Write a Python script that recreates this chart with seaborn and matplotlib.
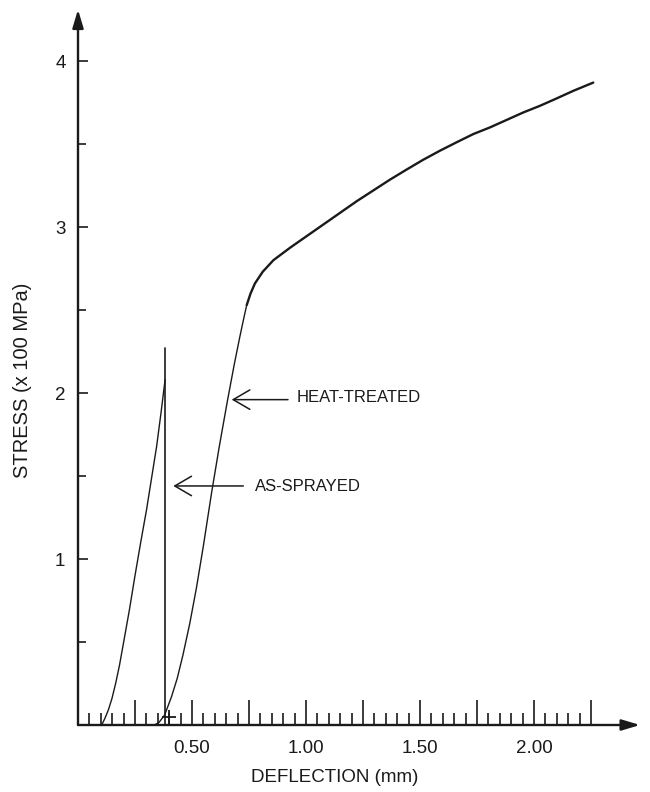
import matplotlib
matplotlib.use('Agg')
import matplotlib.pyplot as plt
import seaborn as sns
import pandas as pd

# ---- data (deflection in mm, stress in x100 MPa) ----
ht_x = [0.335, 0.355, 0.38, 0.41, 0.435, 0.46, 0.49, 0.52, 0.55, 0.586, 0.62, 0.655,
        0.685, 0.71, 0.727, 0.74, 0.757, 0.776, 0.81, 0.857, 0.93,
        1.003, 1.076, 1.149, 1.222, 1.295, 1.368, 1.44, 1.514, 1.588, 1.66, 1.734,
        1.807, 1.88, 1.953, 2.026, 2.10, 2.172, 2.26]
ht_y = [0.0, 0.015, 0.06, 0.17, 0.28, 0.42, 0.61, 0.83, 1.08, 1.40, 1.68, 1.95,
        2.17, 2.34, 2.45, 2.53, 2.60, 2.66, 2.73, 2.80, 2.875,
        2.945, 3.015, 3.085, 3.155, 3.22, 3.285, 3.345, 3.405, 3.46, 3.51, 3.56,
        3.60, 3.645, 3.69, 3.73, 3.775, 3.82, 3.87]
as_x = [0.104, 0.118, 0.133, 0.149, 0.165, 0.182, 0.199, 0.225, 0.25, 0.275, 0.301,
        0.323, 0.345, 0.364, 0.382]
as_y = [0.0, 0.04, 0.09, 0.16, 0.25, 0.36, 0.49, 0.69, 0.90, 1.10, 1.30,
        1.49, 1.68, 1.88, 2.08]
drop_x = [0.382, 0.382]
drop_y = [2.27, 0.0]
cross_x = [0.40]
cross_y = [0.05]
knee_index = 15   # where the heat-treated trace becomes heavier

x_major = [0.25, 0.50, 0.75, 1.00, 1.25, 1.50, 1.75, 2.00, 2.25]
x_labels = ['', '0.50', '', '1.00', '', '1.50', '', '2.00', '']
x_minor = [round(0.05 * i, 2) for i in range(1, 45) if i % 5 != 0]
y_major = [1, 2, 3, 4]
y_labels = ['1', '2', '3', '4']
y_minor = [0.5, 1.5, 2.5, 3.5]

label_ht = 'HEAT-TREATED'
label_as = 'AS-SPRAYED'
ht_arrow_tip = (0.674, 1.96)
ht_arrow_tail = (0.921, 1.96)
ht_text_pos = (0.959, 1.975)
as_arrow_tip = (0.418, 1.44)
as_arrow_tail = (0.725, 1.44)
as_text_pos = (0.776, 1.435)

sns.set_theme(style='white')
plt.rcParams['font.family'] = ['Liberation Sans', 'DejaVu Sans']

W, H = 650, 792
fig = plt.figure(figsize=(W / 100, H / 100), dpi=100)
fig.patch.set_facecolor('white')
ox, oy = 78, 725
sx, sy = 228, 166
xmax, ymax = 2.465, 4.31
ax = fig.add_axes([ox / W, (H - oy) / H, xmax * sx / W, ymax * sy / H])
ax.set_facecolor('white')

df_ht_low = pd.DataFrame({'x': ht_x[:knee_index + 1], 'y': ht_y[:knee_index + 1]})
df_ht_up = pd.DataFrame({'x': ht_x[knee_index:], 'y': ht_y[knee_index:]})
df_as = pd.DataFrame({'x': as_x, 'y': as_y})
df_drop = pd.DataFrame({'x': drop_x, 'y': drop_y})

sns.lineplot(data=df_ht_low, x='x', y='y', sort=False, estimator=None, color='k', lw=1.0, ax=ax)
sns.lineplot(data=df_ht_up, x='x', y='y', sort=False, estimator=None, color='k', lw=1.7, ax=ax)
sns.lineplot(data=df_as, x='x', y='y', sort=False, estimator=None, color='k', lw=1.0, ax=ax)
sns.lineplot(data=df_drop, x='x', y='y', sort=False, estimator=None, color='k', lw=1.2, ax=ax)
ax.plot(cross_x, cross_y, marker='+', ms=10, mew=1.3, color='k', ls='none', clip_on=False)

ax.set_xlim(0, xmax)
ax.set_ylim(0, ymax)
for s in ax.spines.values():
    s.set_visible(False)

# axis lines with arrowheads
arrow_kw = dict(arrowstyle='-|>,head_length=1.1,head_width=0.33', color='k', lw=1.7,
                shrinkA=0, shrinkB=0, mutation_scale=10)
ax.annotate('', xy=(1, 0), xytext=(0, 0), xycoords='axes fraction', arrowprops=arrow_kw,
            annotation_clip=False)
ax.annotate('', xy=(0, 1), xytext=(0, 0), xycoords='axes fraction', arrowprops=arrow_kw,
            annotation_clip=False)

ax.set_xticks(x_major)
ax.set_xticklabels(x_labels)
ax.set_xticks(x_minor, minor=True)
ax.set_yticks(y_major)
ax.set_yticklabels(y_labels)
ax.set_yticks(y_minor, minor=True)

ax.tick_params(axis='x', which='major', direction='in', bottom=True, length=18, width=1.2,
               pad=11, labelsize=13.5, color='k', labelcolor='k')
ax.tick_params(axis='x', which='minor', direction='in', bottom=True, length=8.5, width=1.2,
               color='k')
ax.tick_params(axis='y', which='major', direction='in', left=True, length=7, width=1.2,
               pad=9, labelsize=13.5, color='k', labelcolor='k')
ax.tick_params(axis='y', which='minor', direction='in', left=True, length=6, width=1.2,
               color='k')

ax.set_xlabel('DEFLECTION (mm)', fontsize=13.5, color='k')
ax.set_ylabel('STRESS (x 100 MPa)', fontsize=14.5, color='k')
ax.xaxis.set_label_coords(0.456, -0.0615)
ax.yaxis.set_label_coords(-0.082, 0.482)

lab_kw = dict(arrowstyle='->,head_length=1.2,head_width=0.7', color='k', lw=1.1,
              shrinkA=0, shrinkB=0, mutation_scale=10)
ax.annotate('', xy=ht_arrow_tip, xytext=ht_arrow_tail, arrowprops=lab_kw)
ax.annotate('', xy=as_arrow_tip, xytext=as_arrow_tail, arrowprops=lab_kw)
ax.text(ht_text_pos[0], ht_text_pos[1], label_ht, fontsize=12, ha='left', va='center', color='k')
ax.text(as_text_pos[0], as_text_pos[1], label_as, fontsize=12, ha='left', va='center', color='k')

fig.savefig('out.png', dpi=100, facecolor='white')
